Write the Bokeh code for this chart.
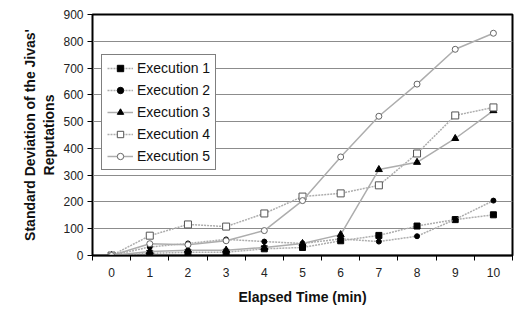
from bokeh.plotting import figure
from bokeh.models import FixedTicker, Legend, LegendItem, Range1d
from bokeh.embed import file_html
from bokeh.resources import INLINE

minutes = [0, 1, 2, 3, 4, 5, 6, 7, 8, 9, 10]
exec1 = [0, 8, 12, 12, 25, 30, 55, 75, 110, 134, 152]
exec2 = [0, 32, 45, 60, 52, 45, 62, 52, 72, 135, 205]
exec3 = [0, 15, 20, 20, 30, 45, 78, 321, 348, 437, 541]
exec4 = [0, 74, 116, 108, 157, 220, 232, 262, 381, 523, 553]
exec5 = [0, 44, 40, 55, 93, 205, 368, 520, 640, 770, 830]
names = ["Execution 1", "Execution 2", "Execution 3", "Execution 4", "Execution 5"]
y_ticks = [0, 100, 200, 300, 400, 500, 600, 700, 800, 900]

FONT = "Liberation Sans"

p = figure(width=518, height=307, output_backend="svg", toolbar_location=None,
           x_range=Range1d(-0.5, 10.5), y_range=Range1d(0, 900),
           min_border_left=92, min_border_right=6, min_border_top=14, min_border_bottom=52)
p.background_fill_color = "white"
p.border_fill_color = "white"
p.outline_line_color = "black"
p.outline_line_width = 2

p.xgrid.visible = False
p.ygrid.ticker = FixedTicker(ticks=y_ticks)
p.ygrid.grid_line_color = "#8c8c8c"
p.ygrid.grid_line_width = 1

p.xaxis.ticker = FixedTicker(ticks=minutes, minor_ticks=[m - 0.5 for m in minutes] + [10.5])
p.xaxis.major_tick_out = 0
p.xaxis.major_tick_in = 0
p.xaxis.minor_tick_out = 5
p.xaxis.minor_tick_in = 0
p.xaxis.axis_line_width = 1.5
p.xaxis.axis_line_color = "black"
p.xaxis.minor_tick_line_color = "black"
p.xaxis.major_label_standoff = 7
p.xaxis.axis_label = "Elapsed Time (min)"
p.xaxis.axis_label_standoff = 9

p.yaxis.ticker = FixedTicker(ticks=y_ticks)
p.yaxis.major_tick_out = 5
p.yaxis.major_tick_in = 0
p.yaxis.minor_tick_out = 0
p.yaxis.minor_tick_in = 0
p.yaxis.axis_line_color = "black"
p.yaxis.major_tick_line_color = "black"
p.yaxis.major_label_standoff = 4
p.yaxis.axis_label = "Standard Deviation of the Jivas'\nReputations"
p.yaxis.axis_label_standoff = 3

for ax in (p.xaxis, p.yaxis):
    ax.major_label_text_font = FONT
    ax.major_label_text_font_size = "12px"
    ax.major_label_text_color = "#222222"
    ax.axis_label_text_font = FONT
    ax.axis_label_text_font_size = "14px"
    ax.axis_label_text_font_style = "bold"
    ax.axis_label_text_color = "#111111"

LINE = "#adadad"
series = [exec1, exec2, exec3, exec4, exec5]
markers = [
    dict(marker="square", size=6, fill_color="black", line_color="black"),
    dict(marker="circle", size=5, fill_color="black", line_color="black"),
    dict(marker="triangle", size=7, fill_color="black", line_color="black"),
    dict(marker="square", size=7, fill_color="white", line_color="#555555"),
    dict(marker="circle", size=6, fill_color="white", line_color="#666666"),
]
dashes = ["2 1", "2 1", "solid", "2 1", "solid"]

items = []
for name, ys, mk, dash in zip(names, series, markers, dashes):
    ln = p.line(minutes, ys, line_color=LINE, line_width=1.5, line_dash=dash)
    sc = p.scatter(minutes, ys, line_width=1, **mk)
    items.append(LegendItem(label=name, renderers=[ln, sc]))

legend = Legend(items=items, location=(9, 85))
legend.label_text_font = FONT
legend.label_text_font_size = "14px"
legend.label_text_color = "#111111"
legend.border_line_color = "black"
legend.border_line_width = 1.5
legend.background_fill_color = "white"
legend.background_fill_alpha = 1
legend.glyph_width = 26
legend.glyph_height = 16
legend.label_height = 16
legend.spacing = 6
legend.padding = 5
legend.margin = 0
legend.label_standoff = 4
p.add_layout(legend, "center")

open("out.html", "w").write(file_html(p, INLINE))
